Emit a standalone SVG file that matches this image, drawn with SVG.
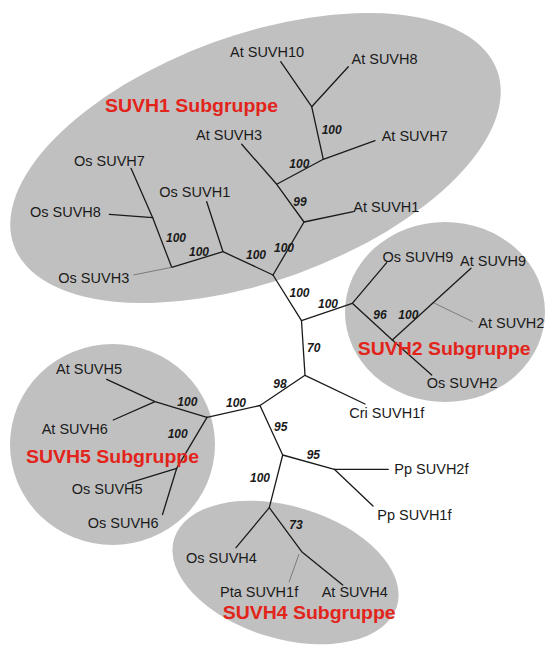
<svg xmlns="http://www.w3.org/2000/svg" width="549" height="646" viewBox="0 0 549 646">
  <style>
    .grp { fill: #c0c0c0; stroke: none; }
    .edge { fill: none; stroke: #1a1a1a; stroke-width: 1.3; stroke-linecap: round; stroke-linejoin: round; }
    .thin { fill: none; stroke: #6a6a6a; stroke-width: 0.8; }
    .leaf { font-family: "Liberation Sans", Arial, sans-serif; font-size: 14.5px; fill: #1a1a1a; }
    .boot { font-family: "Liberation Sans", Arial, sans-serif; font-size: 12px; font-weight: bold; font-style: italic; fill: #1a1a1a; }
    .sub { font-family: "Liberation Sans", Arial, sans-serif; font-size: 18.5px; font-weight: bold; fill: #e3241b; }
  </style>

  <!-- subgroup backgrounds -->
  <g id="subgroups">
    <ellipse class="grp" cx="255.5" cy="158" rx="257" ry="123" transform="rotate(-19.9 255.5 158)"/>
    <ellipse class="grp" cx="445" cy="312" rx="100" ry="90"/>
    <ellipse class="grp" cx="112.5" cy="444.5" rx="102.5" ry="100.5"/>
    <ellipse class="grp" cx="285.5" cy="572.5" rx="116.4" ry="66.2" transform="rotate(16.8 285.5 572.5)"/>
  </g>

  <!-- tree branches -->
  <g id="connectors">
    <!-- SUVH1 subgroup -->
    <path class="edge" d="M273 275 L304 222 L353.3 211.7"/>
    <path class="edge" d="M304 222 L276.7 184.3 L241.7 144.3"/>
    <path class="edge" d="M276.7 184.3 L323.3 159.3 L375 140.7"/>
    <path class="edge" d="M323.3 159.3 L311.7 106.7 L280.7 61.7"/>
    <path class="edge" d="M311.7 106.7 L348.3 66.7"/>
    <path class="edge" d="M273 275 L223 251.7 L206.7 201.7"/>
    <path class="edge" d="M223 251.7 L171.7 267.3 L152.7 217.7 L131 168.3"/>
    <path class="edge" d="M152.7 217.7 L109.3 214.3"/>
    <path class="thin" d="M171.7 267.3 L133.3 275"/>
    <!-- backbone -->
    <path class="edge" d="M273 275 L301.5 320.7 L305 375.3 L260 405.5 L207 417.3"/>
    <path class="edge" d="M305 375.3 L365 404"/>
    <!-- SUVH2 subgroup -->
    <path class="edge" d="M301.5 320.7 L352.3 303.3 L386.7 262.7"/>
    <path class="edge" d="M352.3 303.3 L392.3 340 L431.7 375"/>
    <path class="edge" d="M392.3 340 L471 268.3"/>
    <path class="thin" d="M434 303 L472.7 321.7"/>
    <!-- SUVH5 subgroup -->
    <path class="edge" d="M207 417.3 L155 401.7 L106.7 379.3"/>
    <path class="edge" d="M155 401.7 L113.3 420"/>
    <path class="edge" d="M207 417.3 L176.7 468.3 L162.5 514.5"/>
    <path class="edge" d="M176.7 468.3 L127.7 483.3"/>
    <!-- moss branch -->
    <path class="edge" d="M260 405.5 L282.7 455 L334.3 469.3 L388.3 469.3"/>
    <path class="edge" d="M334.3 469.3 L373 506"/>
    <!-- SUVH4 subgroup -->
    <path class="edge" d="M282.7 455 L269.3 507.7 L236 547.7"/>
    <path class="edge" d="M269.3 507.7 L301.7 551.7 L342.7 585"/>
    <path class="thin" d="M299 554 L289 582.3"/>
  </g>

  <!-- bootstrap support values -->
  <g id="support">
    <text class="boot" x="321.7" y="134">100</text>
    <text class="boot" x="289.3" y="168">100</text>
    <text class="boot" x="293.3" y="205.5">99</text>
    <text class="boot" x="274" y="251.7">100</text>
    <text class="boot" x="166" y="241.7">100</text>
    <text class="boot" x="189" y="256">100</text>
    <text class="boot" x="246" y="259.3">100</text>
    <text class="boot" x="289.5" y="296.5">100</text>
    <text class="boot" x="318" y="308.3">100</text>
    <text class="boot" x="373.3" y="319.3">96</text>
    <text class="boot" x="398.3" y="319.3">100</text>
    <text class="boot" x="307" y="352">70</text>
    <text class="boot" x="273.3" y="387.7">98</text>
    <text class="boot" x="226" y="407">100</text>
    <text class="boot" x="177.3" y="406">100</text>
    <text class="boot" x="167.7" y="438.3">100</text>
    <text class="boot" x="274" y="431">95</text>
    <text class="boot" x="306.7" y="459.3">95</text>
    <text class="boot" x="250" y="481.7">100</text>
    <text class="boot" x="289.3" y="529">73</text>
  </g>

  <!-- subgroup titles -->
  <g id="titles">
    <text class="sub" x="105" y="112" textLength="173" lengthAdjust="spacingAndGlyphs">SUVH1 Subgruppe</text>
    <text class="sub" x="357.7" y="355" textLength="173" lengthAdjust="spacingAndGlyphs">SUVH2 Subgruppe</text>
    <text class="sub" x="26" y="462.7" textLength="173" lengthAdjust="spacingAndGlyphs">SUVH5 Subgruppe</text>
    <text class="sub" x="222.7" y="619.3" textLength="173" lengthAdjust="spacingAndGlyphs">SUVH4 Subgruppe</text>
  </g>

  <!-- leaves -->
  <g id="AtSUVH10"><text class="leaf" x="230" y="57.3">At SUVH10</text></g>
  <g id="AtSUVH8"><text class="leaf" x="351.5" y="64">At SUVH8</text></g>
  <g id="AtSUVH3"><text class="leaf" x="196" y="140">At SUVH3</text></g>
  <g id="AtSUVH7"><text class="leaf" x="381.7" y="140.5">At SUVH7</text></g>
  <g id="AtSUVH1"><text class="leaf" x="353.3" y="211.7">At SUVH1</text></g>
  <g id="OsSUVH7"><text class="leaf" x="74" y="166">Os SUVH7</text></g>
  <g id="OsSUVH1"><text class="leaf" x="159.3" y="196.5">Os SUVH1</text></g>
  <g id="OsSUVH8"><text class="leaf" x="30" y="216.5">Os SUVH8</text></g>
  <g id="OsSUVH3"><text class="leaf" x="58.3" y="282.5">Os SUVH3</text></g>
  <g id="OsSUVH9"><text class="leaf" x="382.5" y="261.5">Os SUVH9</text></g>
  <g id="AtSUVH9"><text class="leaf" x="460" y="266">At SUVH9</text></g>
  <g id="AtSUVH2"><text class="leaf" x="478.3" y="328.3">At SUVH2</text></g>
  <g id="OsSUVH2"><text class="leaf" x="426.7" y="388.3">Os SUVH2</text></g>
  <g id="CriSUVH1f"><text class="leaf" x="349.3" y="418.3">Cri SUVH1f</text></g>
  <g id="AtSUVH5"><text class="leaf" x="56" y="374.3">At SUVH5</text></g>
  <g id="AtSUVH6"><text class="leaf" x="41.7" y="434.3">At SUVH6</text></g>
  <g id="OsSUVH5"><text class="leaf" x="71.7" y="494.3">Os SUVH5</text></g>
  <g id="OsSUVH6"><text class="leaf" x="87.7" y="528.3">Os SUVH6</text></g>
  <g id="PpSUVH2f"><text class="leaf" x="394.3" y="474">Pp SUVH2f</text></g>
  <g id="PpSUVH1f"><text class="leaf" x="377.3" y="520">Pp SUVH1f</text></g>
  <g id="OsSUVH4"><text class="leaf" x="186" y="562.7">Os SUVH4</text></g>
  <g id="PtaSUVH1f"><text class="leaf" x="220" y="597.3">Pta SUVH1f</text></g>
  <g id="AtSUVH4"><text class="leaf" x="321.7" y="597.3">At SUVH4</text></g>
</svg>
